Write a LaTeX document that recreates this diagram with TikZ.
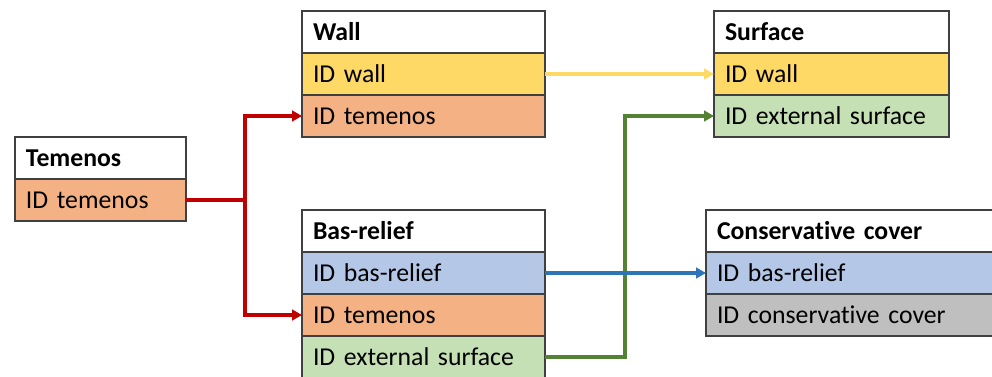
\documentclass[tikz,border=0pt]{standalone}
\usepackage{fontspec}
\setmainfont{Carlito}[Ligatures=NoCommon]
\usetikzlibrary{arrows.meta,positioning}

\definecolor{cellorange}{HTML}{F4B183}
\definecolor{cellyellow}{HTML}{FFD966}
\definecolor{cellgreen}{HTML}{C5E0B4}
\definecolor{cellblue}{HTML}{B4C7E7}
\definecolor{cellgray}{HTML}{BFBFBF}
\definecolor{cellborder}{HTML}{404040}
\definecolor{linkred}{HTML}{C00000}
\definecolor{linkyellow}{HTML}{FFD966}
\definecolor{linkgreen}{HTML}{548235}
\definecolor{linkblue}{HTML}{2E75B6}

\tikzset{
  cell/.style={draw=cellborder, line width=1.1pt, outer sep=0pt,
    anchor=north west, minimum height=31.5pt, inner xsep=8.25pt, inner ysep=0pt,
    text width=#1, align=left, text height=15pt, text depth=3pt,
    font=\fontsize{19.3}{22}\selectfont},
  headcell/.style={cell=#1, fill=white, font=\fontsize{19.3}{22}\selectfont\bfseries},
  link/.style={line width=2.4pt, -{Triangle[length=7.5pt,width=8pt]}},
}

\begin{document}
\begin{tikzpicture}[x=0.75pt,y=-0.75pt]
  \useasboundingbox (0,0) rectangle (992,376);
  \clip (0,0) rectangle (992,376);

  % Temenos
  \node[headcell=111.75pt] (temhead) at (15,137) {Temenos};
  \node[cell=111.75pt, fill=cellorange] (temid) at (15,179) {ID temenos};

  % Wall
  \node[headcell=165.75pt] (wallhead) at (302,11) {Wall};
  \node[cell=165.75pt, fill=cellyellow] (wallid) at (302,53) {ID wall};
  \node[cell=165.75pt, fill=cellorange] (walltem) at (302,95) {ID temenos};

  % Surface
  \node[headcell=159.75pt] (surfhead) at (714,11) {Surface};
  \node[cell=159.75pt, fill=cellyellow] (surfwall) at (714,53) {ID wall};
  \node[cell=159.75pt, fill=cellgreen] (surfext) at (714,95) {ID external surface};

  % Bas-relief
  \node[headcell=165.75pt] (bashead) at (302,210) {Bas-relief};
  \node[cell=165.75pt, fill=cellblue] (basbr) at (302,252) {ID bas-relief};
  \node[cell=165.75pt, fill=cellorange] (bastem) at (302,294) {ID temenos};
  \node[cell=165.75pt, fill=cellgreen] (basext) at (302,336) {ID external surface};

  % Conservative cover
  \node[headcell=199.5pt] (covhead) at (706,210) {Conservative cover};
  \node[cell=199.5pt, fill=cellblue] (covbr) at (706,252) {ID bas-relief};
  \node[cell=199.5pt, fill=cellgray] (covid) at (706,294) {ID conservative cover};

  % Temenos key fans out to Wall and Bas-relief
  \draw[line width=2.4pt, linkred] (temid.east) -- ++(44.25pt,0) coordinate (split);
  \draw[link, linkred] (split) |- (walltem.west);
  \draw[link, linkred] (split) |- (bastem.west);

  % Wall key into Surface
  \draw[link, linkyellow] (wallid.east) -- (surfwall.west);

  % External surface key up to Surface
  \coordinate (greenturn) at ([xshift=60pt]basext.east);
  \draw[link, linkgreen] (basext.east) -- (greenturn) |- (surfext.west);

  % Bas-relief key into Conservative cover
  \draw[link, linkblue] (basbr.east) -- (covbr.west);
\end{tikzpicture}
\end{document}
